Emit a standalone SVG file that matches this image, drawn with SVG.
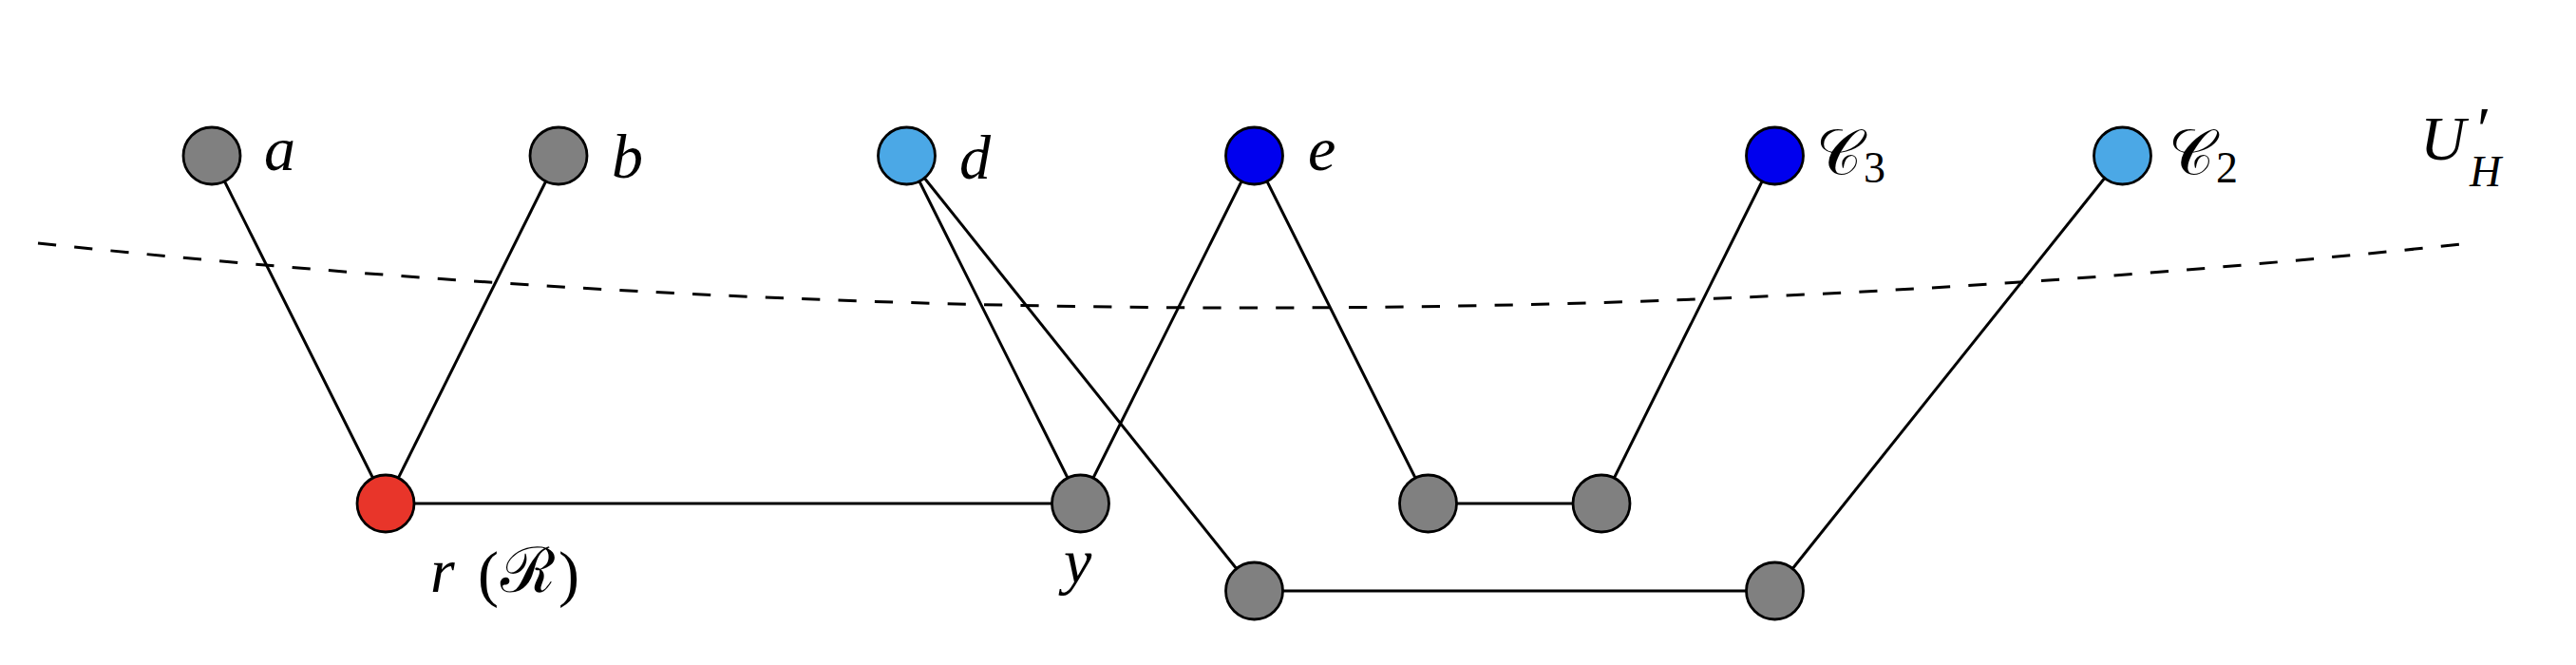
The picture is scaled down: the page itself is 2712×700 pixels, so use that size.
<svg xmlns="http://www.w3.org/2000/svg" width="2712" height="700" viewBox="0 0 2712 700">
<style>
.edge{stroke:#000;stroke-width:3;fill:none}
.dash{stroke:#000;stroke-width:3;fill:none;stroke-dasharray:19.2 19.2}
.node{stroke:#000;stroke-width:2.8}
.gray{fill:#808080}
.red{fill:#E8352A}
.lblue{fill:#4BA8E6}
.blue{fill:#0000EE}
.lbl{font-family:"Liberation Serif","DejaVu Serif",serif;font-style:italic;font-size:66px;fill:#000}
.up{font-style:normal}
.sub{font-size:46px}
</style>
<rect width="2712" height="700" fill="#fff"/>
<path class="dash" d="M40,256 Q1320.5,392 2601,256"/>
<g id="connectors">
<line class="edge" x1="223" y1="164" x2="406" y2="530"/>
<line class="edge" x1="588" y1="164" x2="406" y2="530"/>
<line class="edge" x1="406" y1="530" x2="1137.5" y2="530"/>
<line class="edge" x1="954.5" y1="164" x2="1137.5" y2="530"/>
<line class="edge" x1="954.5" y1="164" x2="1320.5" y2="622"/>
<line class="edge" x1="1320.5" y1="164" x2="1137.5" y2="530"/>
<line class="edge" x1="1320.5" y1="164" x2="1503.5" y2="530"/>
<line class="edge" x1="1503.5" y1="530" x2="1686" y2="530"/>
<line class="edge" x1="1686" y1="530" x2="1868.5" y2="164"/>
<line class="edge" x1="1320.5" y1="622" x2="1868.5" y2="622"/>
<line class="edge" x1="1868.5" y1="622" x2="2234.5" y2="164"/>
</g>
<g id="node-a"><circle class="node gray" cx="223" cy="164" r="30"/><text class="lbl" x="278" y="179">a</text></g>
<g id="node-b"><circle class="node gray" cx="588" cy="164" r="30"/><text class="lbl" x="644" y="187">b</text></g>
<g id="node-d"><circle class="node lblue" cx="954.5" cy="164" r="30"/><text class="lbl" x="1010" y="188">d</text></g>
<g id="node-e"><circle class="node blue" cx="1320.5" cy="164" r="30"/><text class="lbl" x="1377" y="179">e</text></g>
<g id="node-c3"><circle class="node blue" cx="1868.5" cy="164" r="30"/><text class="lbl up" x="1912" y="183">𝒞</text><text class="lbl up sub" x="1962" y="192">3</text></g>
<g id="node-c2"><circle class="node lblue" cx="2234.5" cy="164" r="30"/><text class="lbl up" x="2283" y="183">𝒞</text><text class="lbl up sub" x="2333" y="192">2</text></g>
<g id="node-r"><circle class="node red" cx="406" cy="530" r="30"/><text class="lbl" x="453" y="623">r</text><text class="lbl up" x="503" y="626" font-size="72">(</text><text class="lbl up" x="527" y="623">ℛ</text><text class="lbl up" x="588" y="626" font-size="72">)</text></g>
<g id="node-y"><circle class="node gray" cx="1137.5" cy="530" r="30"/><text class="lbl" x="1120" y="613">y</text></g>
<g id="node-g1"><circle class="node gray" cx="1503.5" cy="530" r="30"/></g>
<g id="node-g2"><circle class="node gray" cx="1686" cy="530" r="30"/></g>
<g id="node-g3"><circle class="node gray" cx="1320.5" cy="622" r="30"/></g>
<g id="node-g4"><circle class="node gray" cx="1868.5" cy="622" r="30"/></g>
<g id="label-uh"><text class="lbl" x="2548" y="168">U</text><text class="lbl up" x="2608" y="158" font-size="52">′</text><text class="lbl sub" x="2600" y="196">H</text></g>
</svg>
